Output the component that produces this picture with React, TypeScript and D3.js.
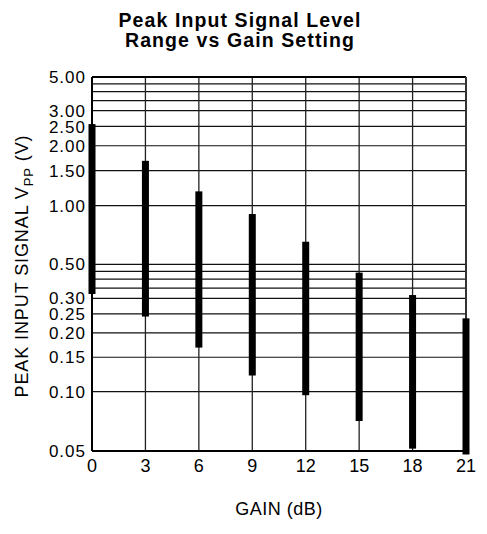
import React from "react";
import * as d3 from "d3";

// ---- data ----
const gains = [0, 3, 6, 9, 12, 15, 18, 21];
const lowV = [0.32, 0.242, 0.168, 0.121, 0.096, 0.071, 0.0514, 0.048];
const highV = [2.57, 1.68, 1.18, 0.906, 0.653, 0.441, 0.315, 0.237];

const yTickValues = [0.05, 0.1, 0.15, 0.2, 0.25, 0.3, 0.5, 1, 1.5, 2, 2.5, 3, 5];
const yTickLabels = ["0.05", "0.10", "0.15", "0.20", "0.25", "0.30", "0.50", "1.00", "1.50", "2.00", "2.50", "3.00", "5.00"];
const yExtraGrid = [0.35, 0.4, 0.45, 3.5, 4, 4.5];
const xTickLabels = ["0", "3", "6", "9", "12", "15", "18", "21"];

// the printed log axis is slightly distorted; piecewise-log breakpoints
const yBreaks = [0.05, 0.1, 0.3, 0.5, 1, 3, 5];
const yBreakFrac = [1, 0.8415, 0.5917, 0.5008, 0.3441, 0.0901, 0];

const W = 487;
const H = 534;
const margin = { top: 77, right: 21, bottom: 83, left: 92 };
const FONT = "'Liberation Sans', Arial, Helvetica, sans-serif";

export default function App() {
  const plotH = H - margin.top - margin.bottom;
  const x = d3
    .scaleLinear()
    .domain([0, 21])
    .range([margin.left, W - margin.right]);
  const y = d3
    .scaleLog()
    .domain(yBreaks)
    .range(yBreakFrac.map((f) => margin.top + f * plotH));

  const x0 = margin.left;
  const x1 = W - margin.right;
  const y0 = margin.top;
  const y1 = H - margin.bottom;
  const gridLines = [...yTickValues, ...yExtraGrid];

  return (
    <svg
      width={W}
      height={H}
      style={{ position: "absolute", left: 0, top: 0, background: "#fff" }}
      fontFamily={FONT}
    >
      <rect x={0} y={0} width={W} height={H} fill="#fff" />
      {/* title */}
      <text x={240} y={26.5} textAnchor="middle" fontSize={19.5} fontWeight="bold" letterSpacing={1.1} fill="#000">
        Peak Input Signal Level
      </text>
      <text x={240} y={46.5} textAnchor="middle" fontSize={19.5} fontWeight="bold" letterSpacing={1.1} fill="#000">
        Range vs Gain Setting
      </text>

      {/* horizontal grid */}
      {gridLines.map((v, i) => (
        <line key={"h" + i} x1={x0} x2={x1} y1={y(v)} y2={y(v)} stroke="#111" strokeWidth={1.2} />
      ))}
      {/* vertical grid */}
      {gains.map((g, i) => (
        <line key={"v" + i} x1={x(g)} x2={x(g)} y1={y0} y2={y1} stroke="#222" strokeWidth={1.3} />
      ))}
      {/* frame */}
      <line x1={x0} x2={x1} y1={y0} y2={y0} stroke="#000" strokeWidth={2} />
      <line x1={x0} x2={x1} y1={y1} y2={y1} stroke="#000" strokeWidth={2} />
      <line x1={x0} x2={x0} y1={y0} y2={y1} stroke="#000" strokeWidth={2} />
      <line x1={x1} x2={x1} y1={y0} y2={y1} stroke="#333" strokeWidth={2} />

      {/* range bars */}
      {gains.map((g, i) => (
        <rect
          key={"b" + i}
          x={x(g) - 3.5}
          width={7}
          y={y(highV[i])}
          height={y(lowV[i]) - y(highV[i])}
          fill="#000"
        />
      ))}

      {/* y tick labels */}
      {yTickValues.map((v, i) => (
        <text key={"yt" + i} x={86} y={y(v) + 6.2} textAnchor="end" fontSize={17} letterSpacing={1} fill="#000">
          {yTickLabels[i]}
        </text>
      ))}
      {/* x tick labels */}
      {gains.map((g, i) => (
        <text key={"xt" + i} x={x(g)} y={472} textAnchor="middle" fontSize={18} fill="#000">
          {xTickLabels[i]}
        </text>
      ))}

      {/* axis titles */}
      <text x={(x0 + x1) / 2} y={515} textAnchor="middle" fontSize={18} letterSpacing={0.5} fill="#000">
        GAIN (dB)
      </text>
      <text transform="translate(28,266) rotate(-90)" textAnchor="middle" fontSize={18} letterSpacing={0.9} fill="#000">
        PEAK INPUT SIGNAL V
        <tspan fontSize={13} dy={5}>PP</tspan>
        <tspan dy={-5}> (V)</tspan>
      </text>
    </svg>
  );
}
